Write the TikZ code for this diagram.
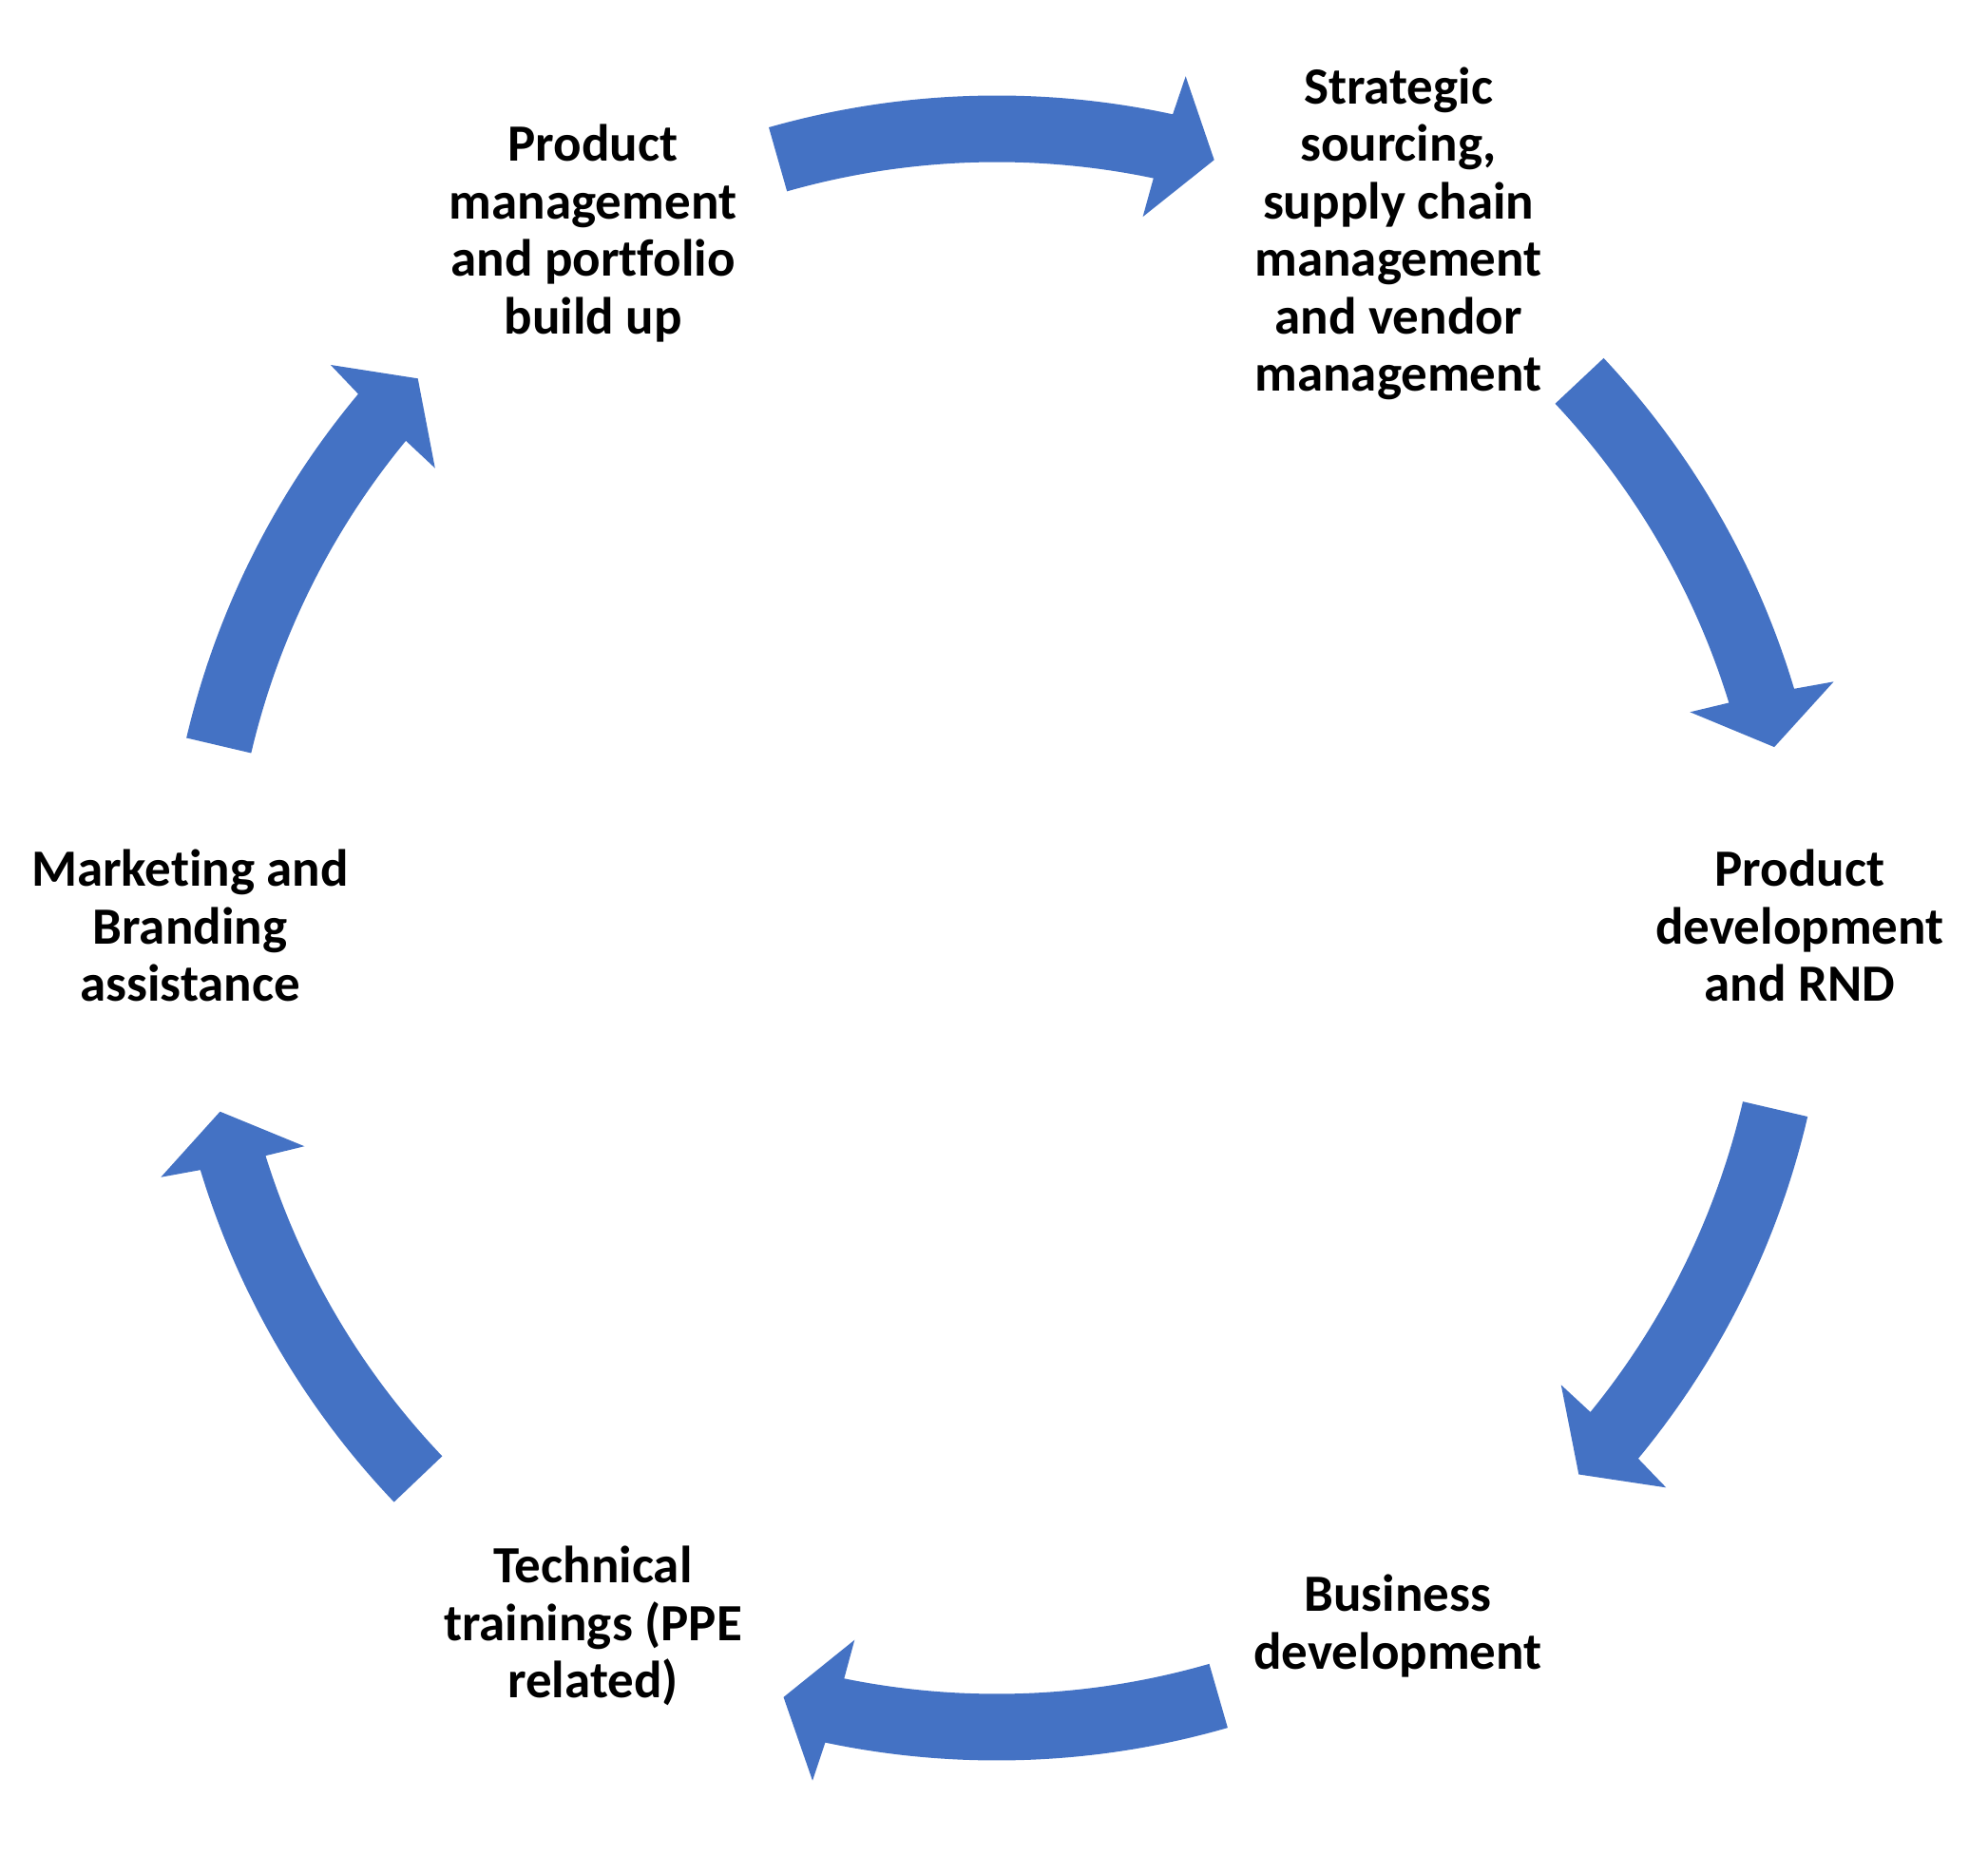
\documentclass[tikz,border=0pt]{standalone}
\usepackage{fontspec}
\setmainfont{Carlito}[Ligatures={NoCommon}]
\definecolor{arrowblue}{HTML}{4472C4}
% #1 tail angle, #2 tip angle (clockwise arc arrow around the centre)
\newcommand\cycarrow[2]{%
  \fill[arrowblue] ({#1}:438pt) arc[start angle={#1}, end angle={#2+3.6}, radius=438pt]
    -- ({#2+3.3}:459pt) -- ({#2}:420pt) -- ({#2+4.2}:382pt) -- ({#2+4.0}:403pt)
    arc[start angle={#2+4.0}, end angle={#1}, radius=403pt] -- cycle;}
\begin{document}
\begin{tikzpicture}[
  lbl/.style={align=center, inner sep=0pt, text=black,
    font=\fontsize{27.5pt}{30.25pt}\selectfont\bfseries,
    execute at begin node=\strut, execute at end node=\strut}]
\useasboundingbox (-524.5pt,-487.75pt) rectangle (521.5pt,488.25pt);
\node[lbl] (pm) at (-212.5pt,363pt) {Product\\management\\and portfolio\\build up};
\node[lbl] (ss) at (211.3pt,363pt) {Strategic\\sourcing,\\supply chain\\management\\and vendor\\management};
\node[lbl] (pd) at (422.5pt,-3.25pt) {Product\\development\\and RND};
\node[lbl] (bd) at (211pt,-369.75pt) {Business\\development};
\node[lbl] (tt) at (-212.5pt,-369.75pt) {Technical\\trainings (PPE\\related)};
\node[lbl] (mb) at (-424.5pt,-3.25pt) {Marketing and\\Branding\\assistance};
\cycarrow{105.9}{74.2}
\cycarrow{43.2}{13.1}
\cycarrow{-13.1}{-43.2}
\cycarrow{-73.9}{-105.5}
\cycarrow{-136.4}{-166.7}
\cycarrow{166.8}{136.5}
\end{tikzpicture}
\end{document}
